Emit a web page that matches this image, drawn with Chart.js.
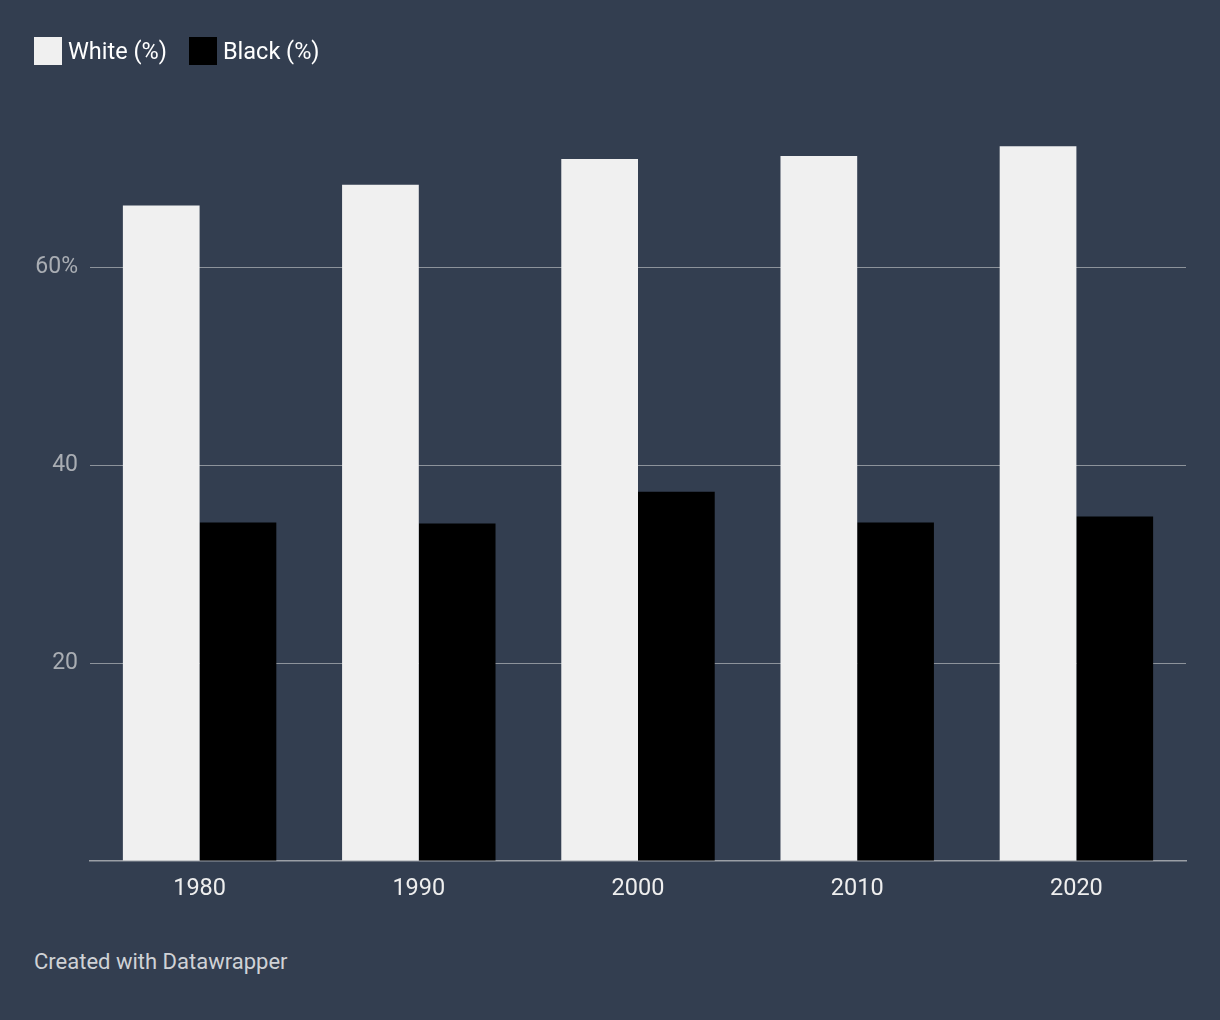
<!DOCTYPE html>
<html>
<head>
<meta charset="utf-8">
<script src="https://cdn.jsdelivr.net/npm/chart.js@4"></script>
<style>
  html, body { margin: 0; padding: 0; }
  body { width: 1220px; height: 1020px; background: #333e50; font-family: Roboto, sans-serif; position: relative; overflow: hidden; }
  #wrap { position: absolute; left: 0; top: 0; width: 1220px; height: 920px; }
  .legend { position: absolute; top: 37px; left: 34px; display: flex; align-items: center; font-size: 23.5px; line-height: 28px; color: #ffffff; z-index: 2; }
  .legend .sw { width: 28px; height: 28px; display: inline-block; margin-right: 6px; }
  .legend .item { display: flex; align-items: center; margin-right: 22px; }
  .footer { position: absolute; left: 34px; top: 949px; font-size: 22px; line-height: 26px; color: #cfd2d6; }
</style>
</head>
<body>
<div class="legend">
  <div class="item"><span class="sw" style="background:#f0f0f0"></span>White (%)</div>
  <div class="item"><span class="sw" style="background:#000000"></span>Black (%)</div>
</div>
<div id="wrap"><canvas id="myChart"></canvas></div>
<div class="footer">Created with Datawrapper</div>
<script>
var years = ["1980", "1990", "2000", "2010", "2020"];
var white = [66.2, 68.3, 70.9, 71.2, 72.2];
var black = [34.2, 34.1, 37.3, 34.2, 34.8];
var yTicks = [20, 40, 60];

var ctx = document.getElementById("myChart").getContext("2d");
var chart = new Chart(ctx, {
  type: "bar",
  data: {
    labels: years,
    datasets: [
      { label: "White (%)", backgroundColor: "#f0f0f0", data: white },
      { label: "Black (%)", backgroundColor: "#000000", data: black }
    ]
  },
  options: {
    responsive: true,
    maintainAspectRatio: false,
    animation: false,
    categoryPercentage: 0.7,
    barPercentage: 1.0,
    layout: { padding: { top: 69, right: 34, bottom: 0, left: 0 } },
    plugins: { legend: { display: false }, tooltip: { enabled: false } },
    scales: {
      x: {
        grid: { display: false },
        border: { display: true, color: "#9a9ea5", width: 1.5 },
        ticks: { color: "#eeeeee", font: { family: "Roboto", size: 23.5 }, padding: 6 },
        afterFit: function (s) { s.height = 59; }
      },
      y: {
        min: 0,
        max: 80,
        border: { display: false },
        grid: {
          drawTicks: false,
          lineWidth: 1,
          color: function (c) {
            return yTicks.indexOf(c.tick.value) >= 0 ? "#8d939b" : "rgba(0,0,0,0)";
          }
        },
        ticks: {
          stepSize: 20,
          padding: 12,
          color: "#a9adb3",
          font: { family: "Roboto", size: 23 },
          callback: function (v) {
            if (yTicks.indexOf(v) < 0) return "";
            return v === 60 ? v + "%" : String(v);
          }
        },
        afterFit: function (s) { s.width = 90; }
      }
    }
  }
});
</script>
</body>
</html>
